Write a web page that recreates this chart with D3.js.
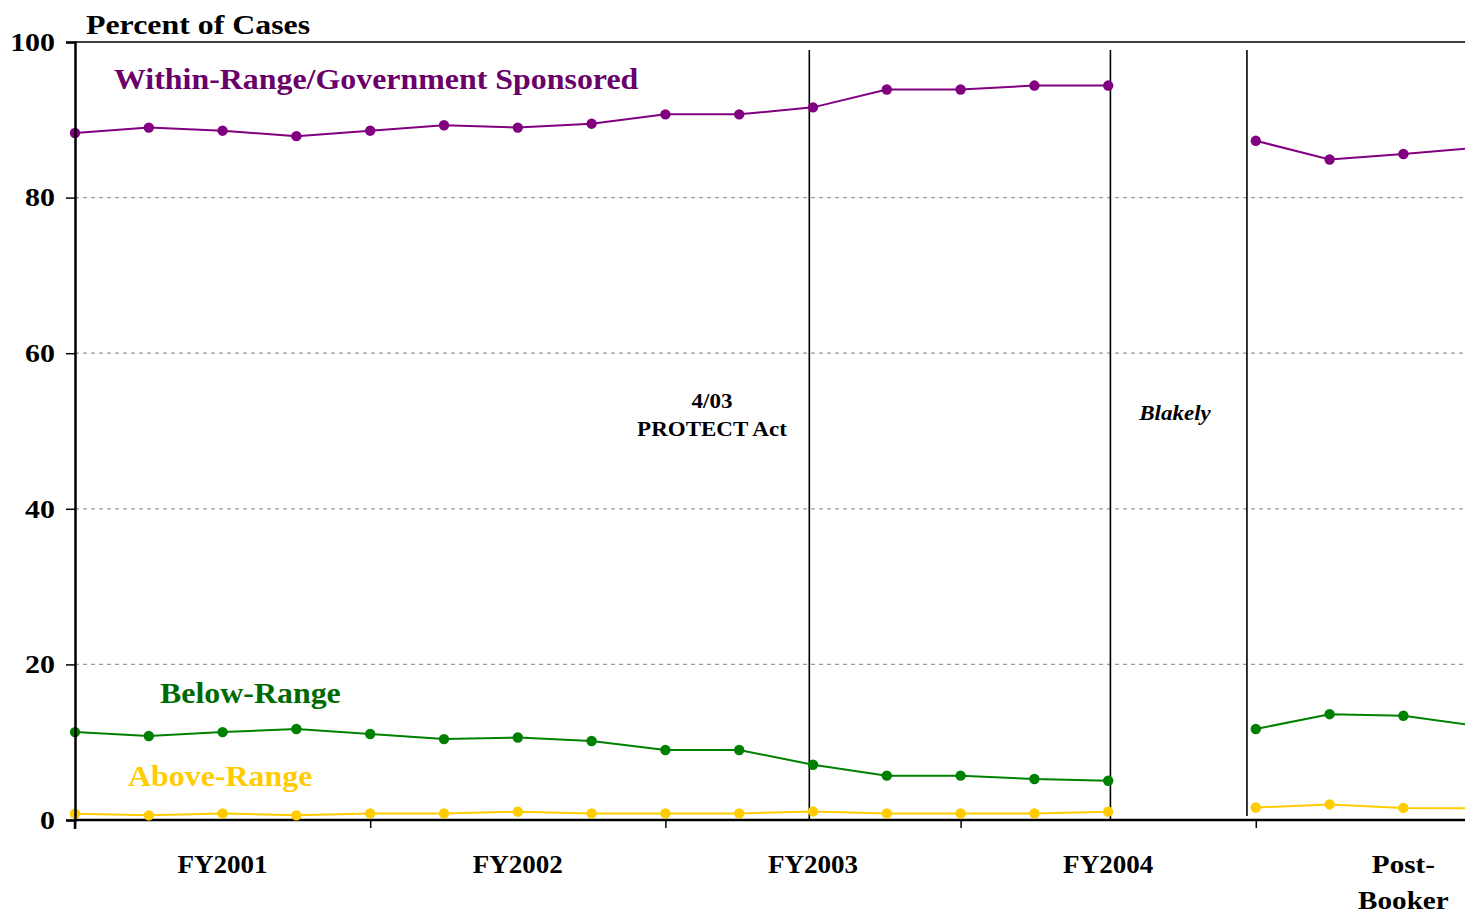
<!DOCTYPE html>
<html>
<head>
<meta charset="utf-8">
<script src="https://cdn.jsdelivr.net/npm/d3@7"></script>
<style>
  html, body { margin: 0; padding: 0; background: #fff; }
  #chart { width: 1465px; height: 914px; }
  text { font-family: "Liberation Serif", "Times New Roman", serif; font-weight: bold; }
</style>
</head>
<body>
<div id="chart"></div>
<script>
// Dados do gráfico (trimestres fiscais, 15 = lacuna Blakely/Booker) //
const quarters = [0, 1, 2, 3, 4, 5, 6, 7, 8, 9, 10, 11, 12, 13, 14, 15, 16, 17, 18, 19]
const withinRange = [88.3, 89.0, 88.6, 87.9, 88.6, 89.3, 89.0, 89.5, 90.7, 90.7, 91.6, 93.9, 93.9, 94.4, 94.4, null, 87.3, 84.9, 85.6, 86.4]
const belowRange  = [11.3, 10.8, 11.3, 11.7, 11.05, 10.4, 10.6, 10.15, 9.0, 9.0, 7.1, 5.7, 5.7, 5.27, 5.05, null, 11.7, 13.6, 13.4, 12.1]
const aboveRange  = [0.8, 0.6, 0.85, 0.6, 0.85, 0.85, 1.07, 0.85, 0.85, 0.85, 1.1, 0.85, 0.85, 0.85, 1.07, null, 1.6, 2.0, 1.55, 1.5]

const periodLabels = ["FY2001", "FY2002", "FY2003", "FY2004", "Post-|Booker"]
const periodCenters = [2, 6, 10, 14, 18]
const periodTicks = [0, 4, 8, 12, 16]
const yTicks = [0, 20, 40, 60, 80, 100]

// Eventos (posição em trimestres) //
const eventNames = ["PROTECT", "Blakely", "Booker"]
const eventQuarters = [9.95, 14.03, 15.88]

// Alarga o texto na horizontal (a fonte original é mais larga) //
function stretch(sel, k) {
  sel.each(function() {
    const len = this.getComputedTextLength()
    d3.select(this).attr("textLength", len * k).attr("lengthAdjust", "spacingAndGlyphs")
  })
}

// Renderiza //
const width = 1465, height = 914
const svg = d3.select("#chart").append("svg")
  .attr("width", width)
  .attr("height", height)

const x = d3.scaleLinear().domain([0, 20]).range([75, 75 + 73.8 * 20])
const y = d3.scaleLinear().domain([0, 100]).range([820, 42])

svg.append("clipPath").attr("id", "plotClip")
  .append("rect").attr("x", 60).attr("y", 0).attr("width", width - 60).attr("height", height)

const plot = svg.append("g").attr("clip-path", "url(#plotClip)")

// Grade //
plot.selectAll("line.grid")
  .data(yTicks.filter(v => v > 0))
  .enter().append("line")
  .attr("class", "grid")
  .attr("x1", x(0)).attr("x2", width)
  .attr("y1", d => y(d)).attr("y2", d => y(d))
  .attr("stroke", d => d === 100 ? "#000" : "#999")
  .attr("stroke-width", d => d === 100 ? 1.5 : 1.3)
  .attr("stroke-dasharray", d => d === 100 ? null : "4,4")

// Eixo Y //
const yAxis = svg.append("g")
  .attr("transform", "translate(" + x(0) + ",0)")
  .call(d3.axisLeft(y).tickValues(yTicks).tickSize(9).tickPadding(11).tickFormat(d3.format("d")))
yAxis.select(".domain").attr("stroke-width", 2.5)
yAxis.selectAll(".tick line").attr("stroke-width", 1.5)
yAxis.selectAll("text").attr("font-size", 26).attr("fill", "#000")
  .attr("font-family", "'Liberation Serif', serif").attr("font-weight", "bold")
  .call(stretch, 1.15)

// Eixo X //
const xAxis = plot.append("g")
  .attr("transform", "translate(0," + y(0) + ")")
  .call(d3.axisBottom(x).tickValues(periodTicks).tickSize(8).tickFormat(""))
xAxis.select(".domain").attr("stroke-width", 2.5).attr("d", "M" + x(0) + ",0H" + width)
xAxis.selectAll(".tick line").attr("stroke-width", 1.5)

svg.append("line")
  .attr("x1", x(0)).attr("x2", x(0))
  .attr("y1", y(0)).attr("y2", y(0) + 9)
  .attr("stroke", "#000").attr("stroke-width", 2.5)

// Rótulos dos períodos (uma linha por parte) //
periodLabels.forEach((d, i) => {
  const parts = d.split("|")
  parts.forEach((p, j) => {
    svg.append("text")
      .attr("class", "period")
      .attr("text-anchor", "middle")
      .attr("font-size", 26)
      .attr("x", x(periodCenters[i]))
      .attr("y", 873 + j * 36)
      .text(p)
      .call(stretch, parts.length > 1 ? 1.12 : 1.04)
  })
})

// Linhas de eventos //
plot.selectAll("line.event")
  .data(eventQuarters)
  .enter().append("line")
  .attr("class", "event")
  .attr("x1", d => x(d)).attr("x2", d => x(d))
  .attr("y1", 50).attr("y2", (d, i) => i === 2 ? 816 : y(0))
  .attr("stroke", "#000").attr("stroke-width", 1.6)

svg.append("text").attr("text-anchor", "middle").attr("font-size", 20)
  .attr("x", 712).attr("y", 408).text("4/03").call(stretch, 1.15)
svg.append("text").attr("text-anchor", "middle").attr("font-size", 20)
  .attr("x", 712).attr("y", 436).text("PROTECT Act").call(stretch, 1.15)
svg.append("text").attr("text-anchor", "middle").attr("font-size", 20)
  .attr("font-style", "italic")
  .attr("x", 1175).attr("y", 420).text("Blakely").call(stretch, 1.15)

// Séries //
const series = [
  { name: "Within-Range/Government Sponsored", values: withinRange, color: "#800080", label: "#6a006a", lx: 114, ly: 89 },
  { name: "Below-Range", values: belowRange, color: "#008000", label: "#006a00", lx: 160, ly: 703 },
  { name: "Above-Range", values: aboveRange, color: "#ffcc00", label: "#ffcc00", lx: 128, ly: 786 }
]

const line = d3.line()
  .defined(d => d.v != null)
  .x(d => x(d.q))
  .y(d => y(d.v))

series.forEach(s => {
  const pts = quarters.map((q, i) => ({ q: q, v: s.values[i] }))
  plot.append("path")
    .datum(pts)
    .attr("d", line)
    .attr("fill", "none")
    .attr("stroke", s.color)
    .attr("stroke-width", 2)
  plot.selectAll(null)
    .data(pts.filter(d => d.v != null))
    .enter().append("circle")
    .attr("cx", d => x(d.q))
    .attr("cy", d => y(d.v))
    .attr("r", 5.2)
    .attr("fill", s.color)
  svg.append("text")
    .attr("x", s.lx).attr("y", s.ly)
    .attr("font-size", 29)
    .attr("fill", s.label)
    .text(s.name)
    .call(stretch, 1.1)
})

// Título //
svg.append("text")
  .attr("x", 86).attr("y", 34)
  .attr("font-size", 27)
  .text("Percent of Cases")
  .call(stretch, 1.18)
</script>
</body>
</html>
